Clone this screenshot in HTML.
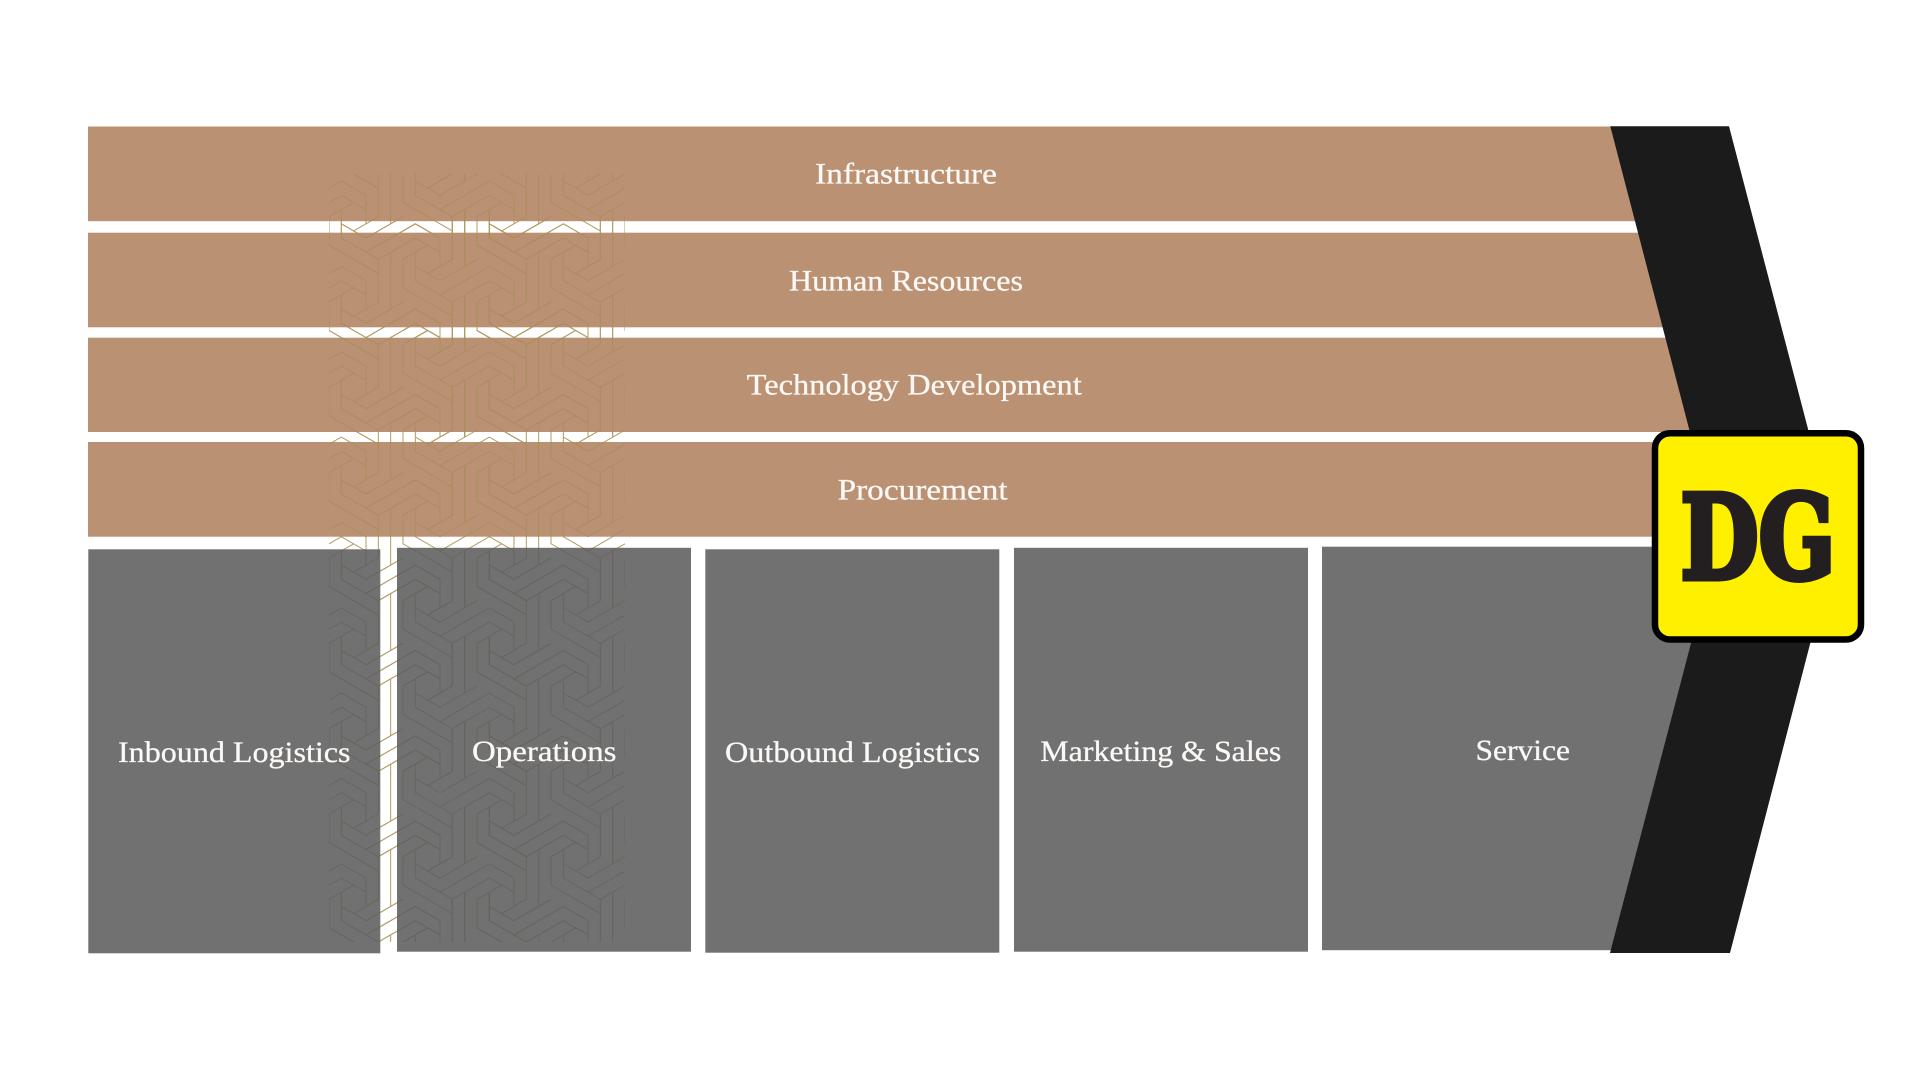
<!DOCTYPE html>
<html lang="en">
<head>
<meta charset="utf-8">
<title>Value Chain</title>
<style>
html,body{margin:0;padding:0;background:#fff;width:1920px;height:1080px;overflow:hidden}
svg{display:block}
text{font-family:"Liberation Serif",serif;fill:#fbf8f5;stroke:#fbf8f5;stroke-width:.3px;font-size:30px}
</style>
</head>
<body>
<svg xmlns="http://www.w3.org/2000/svg" width="1920" height="1080" viewBox="0 0 1920 1080">
<defs>
  <path id="m" fill="none"
    d="M0 14.22L12.33 7.11L37 21.33L37 49.78M0 28.44L12.33 21.33L37 35.56M0 42.67L24.67 28.44M49.33 0L49.33 42.67L24.67 56.89M61.67 -7.11L61.67 49.78M74 0L74 28.44L123.33 56.89M86.33 -7.11L86.33 21.33L123.33 42.67M86.33 7.11L111 21.33L148 0M111 35.56L148 14.22M123.33 42.67L148 28.44"/>
  <g id="tile">
    <use href="#m"/>
    <use href="#m" transform="translate(74,42.667)"/>
    <use href="#m" transform="translate(-74,42.667)"/>
    <use href="#m" transform="translate(74,-42.667)"/>
    <use href="#m" transform="translate(-74,-42.667)"/>
  </g>
  <g id="col">
    <use href="#tile" transform="translate(0,-85.333)"/>
    <use href="#tile"/>
    <use href="#tile" transform="translate(0,85.333)"/>
    <use href="#tile" transform="translate(0,170.667)"/>
    <use href="#tile" transform="translate(0,256)"/>
    <use href="#tile" transform="translate(0,341.333)"/>
    <use href="#tile" transform="translate(0,426.667)"/>
    <use href="#tile" transform="translate(0,512)"/>
    <use href="#tile" transform="translate(0,597.333)"/>
    <use href="#tile" transform="translate(0,682.667)"/>
    <use href="#tile" transform="translate(0,768)"/>
  </g>
  <clipPath id="pc"><rect x="329" y="174" width="296" height="768"/></clipPath>
  <clipPath id="bc">
    <rect x="88" y="126.5" width="1612" height="94.7"/>
    <rect x="88" y="232.7" width="1612" height="94.6"/>
    <rect x="88" y="337.7" width="1612" height="94.3"/>
    <rect x="88" y="442" width="1612" height="94.7"/>
  </clipPath>
  <g id="pat" clip-path="url(#pc)">
    <g transform="translate(329,174)">
      <use href="#col"/>
      <use href="#col" transform="translate(148,0)"/>
    </g>
  </g>
</defs>

<rect width="1920" height="1080" fill="#fff"/>

<!-- pattern on white -->
<g stroke="#b39a62" stroke-width="1"><use href="#pat"/></g>

<!-- brown bars -->
<g fill="#ba9173">
  <rect x="88" y="126.5" width="1612" height="94.7"/>
  <rect x="88" y="232.7" width="1612" height="94.6"/>
  <rect x="88" y="337.7" width="1612" height="94.3"/>
  <rect x="88" y="442" width="1612" height="94.7"/>
</g>
<g clip-path="url(#bc)"><g stroke="#ab8e60" stroke-width="1"><use href="#pat"/></g></g>

<!-- gray boxes -->
<g fill="#5d5d5d" fill-opacity="0.88">
  <rect x="88.3" y="549.3" width="292" height="404"/>
  <rect x="397" y="547.8" width="294" height="403.9"/>
  <rect x="705.3" y="549.3" width="294" height="403.4"/>
  <rect x="1014" y="547.8" width="294" height="403.9"/>
  <rect x="1322" y="546.7" width="378" height="403.5"/>
</g>

<!-- chevron -->
<polygon points="1610.3,126.3 1729,126.3 1837,540 1730,953 1610,953 1718,540" fill="#1c1b1c"/>

<!-- labels -->
<text x="815" y="183.5" textLength="182" lengthAdjust="spacingAndGlyphs">Infrastructure</text>
<text x="789" y="290.5" textLength="234" lengthAdjust="spacingAndGlyphs">Human Resources</text>
<text x="746.7" y="394.5" textLength="335" lengthAdjust="spacingAndGlyphs">Technology Development</text>
<text x="837.6" y="499.5" textLength="170" lengthAdjust="spacingAndGlyphs">Procurement</text>
<text x="118" y="762" textLength="232.5" lengthAdjust="spacingAndGlyphs">Inbound Logistics</text>
<text x="472" y="761" textLength="144.5" lengthAdjust="spacingAndGlyphs">Operations</text>
<text x="725" y="762" textLength="255" lengthAdjust="spacingAndGlyphs">Outbound Logistics</text>
<text x="1040.3" y="761" textLength="241" lengthAdjust="spacingAndGlyphs">Marketing &amp; Sales</text>
<text x="1475.5" y="760" textLength="94.5" lengthAdjust="spacingAndGlyphs">Service</text>

<!-- logo -->
<rect x="1655" y="433.2" width="206" height="206.3" rx="15" ry="15" fill="#fff000" stroke="#000" stroke-width="6.5"/>
<text x="1680.5" y="578.5" textLength="155" lengthAdjust="spacingAndGlyphs" style="font-family:'DejaVu Serif','Liberation Serif',serif;font-weight:bold;font-size:116px;fill:#231f20;stroke:#231f20;stroke-width:6px">DG</text>
</svg>
</body>
</html>
